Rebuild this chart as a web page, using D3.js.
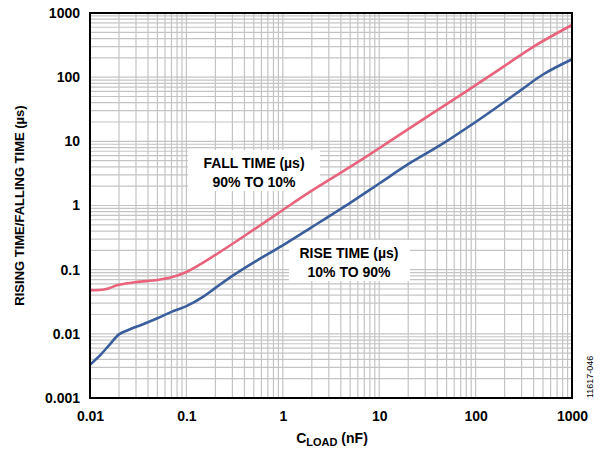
<!DOCTYPE html>
<html>
<head>
<meta charset="utf-8">
<script src="https://cdn.jsdelivr.net/npm/d3@7"></script>
<style>
body { margin: 0; background: #fff; }
text { font-family: "Liberation Sans", Arial, sans-serif; }
</style>
</head>
<body>
<div id="chart"></div>
<script>
'use strict';

var xTicks = [0.01, 0.1, 1, 10, 100, 1000];
var yTicks = [0.001, 0.01, 0.1, 1, 10, 100, 1000];
var xTickLabels = ["0.01", "0.1", "1", "10", "100", "1000"];
var yTickLabels = ["0.001", "0.01", "0.1", "1", "10", "100", "1000"];

// fall time, 90% to 10%
var fallLoad = [0.01, 0.014, 0.02, 0.03, 0.05, 0.07, 0.1, 0.2, 0.5, 1, 2, 5, 10, 20, 50, 100, 200, 400, 1000];
var fallTime = [0.048, 0.049, 0.058, 0.064, 0.069, 0.076, 0.092, 0.17, 0.42, 0.85, 1.7, 4.0, 7.8, 15.5, 38, 75, 150, 300, 650];

// rise time, 10% to 90%
var riseLoad = [0.01, 0.013, 0.016, 0.02, 0.025, 0.035, 0.05, 0.07, 0.1, 0.15, 0.2, 0.3, 0.5, 1, 2, 5, 10, 20, 43, 100, 212, 300, 500, 1000];
var riseTime = [0.0033, 0.0048, 0.0068, 0.0098, 0.0115, 0.014, 0.0175, 0.022, 0.027, 0.038, 0.052, 0.08, 0.13, 0.24, 0.46, 1.1, 2.2, 4.4, 8.7, 20, 44, 64, 110, 190];

var margin = { left: 90, top: 13 };
var width = 602, height = 453;
var iw = 572 - margin.left, ih = 398 - margin.top;

var svg = d3.select("#chart").append("svg")
    .attr("width", width)
    .attr("height", height);

var g = svg.append("g")
    .attr("transform", "translate(" + margin.left + "," + margin.top + ")");

var x = d3.scaleLog().domain([0.01, 1000]).range([0, iw]);
var y = d3.scaleLog().domain([0.001, 1000]).range([ih, 0]);

// minor + major grid
var xGrid = [], yGrid = [];
xTicks.slice(0, -1).forEach(function (d) {
    for (var k = 2; k <= 10; k++) xGrid.push(d * k);
});
yTicks.slice(0, -1).forEach(function (d) {
    for (var k = 2; k <= 10; k++) yGrid.push(d * k);
});

g.selectAll("line.gx").data(xGrid).enter().append("line")
    .attr("class", "gx")
    .attr("x1", function (d) { return x(d); })
    .attr("x2", function (d) { return x(d); })
    .attr("y1", 0).attr("y2", ih)
    .attr("stroke", "#c4c4c4").attr("stroke-width", 1.2);

g.selectAll("line.gy").data(yGrid).enter().append("line")
    .attr("class", "gy")
    .attr("y1", function (d) { return y(d); })
    .attr("y2", function (d) { return y(d); })
    .attr("x1", 0).attr("x2", iw)
    .attr("stroke", "#c4c4c4").attr("stroke-width", 1.2);

// label boxes
g.append("rect").attr("x", 188 - margin.left).attr("y", 150 - margin.top)
    .attr("width", 132).attr("height", 41).attr("fill", "#fff");
g.append("rect").attr("x", 289 - margin.left).attr("y", 240 - margin.top)
    .attr("width", 121).attr("height", 41).attr("fill", "#fff");

var line = d3.line()
    .x(function (d) { return x(d[0]); })
    .y(function (d) { return y(d[1]); })
    .curve(d3.curveCatmullRom.alpha(0.5));

g.append("path")
    .datum(d3.zip(fallLoad, fallTime))
    .attr("d", line)
    .attr("fill", "none")
    .attr("stroke", "#e8637b")
    .attr("stroke-width", 2.6);

g.append("path")
    .datum(d3.zip(riseLoad, riseTime))
    .attr("d", line)
    .attr("fill", "none")
    .attr("stroke", "#3a5d9c")
    .attr("stroke-width", 2.6);

// labels on curves
var labels = g.append("g")
    .attr("font-weight", "bold")
    .attr("font-size", "14px")
    .attr("text-anchor", "middle")
    .attr("fill", "#000");
labels.append("text").attr("x", 254 - margin.left).attr("y", 168 - margin.top).text("FALL TIME (µs)");
labels.append("text").attr("x", 254 - margin.left).attr("y", 187 - margin.top).text("90% TO 10%");
labels.append("text").attr("x", 349 - margin.left).attr("y", 258 - margin.top).text("RISE TIME (µs)");
labels.append("text").attr("x", 349 - margin.left).attr("y", 277 - margin.top).text("10% TO 90%");

// frame
g.append("rect")
    .attr("x", 0).attr("y", 0)
    .attr("width", iw).attr("height", ih)
    .attr("fill", "none")
    .attr("stroke", "#000")
    .attr("stroke-width", 2);

// axes
var xAxis = d3.axisBottom(x)
    .tickValues(xTicks)
    .tickSize(0)
    .tickPadding(13)
    .tickFormat(function (d, i) { return xTickLabels[i]; });
var yAxis = d3.axisLeft(y)
    .tickValues(yTicks)
    .tickSize(0)
    .tickPadding(10)
    .tickFormat(function (d, i) { return yTickLabels[i]; });

var gx = g.append("g").attr("transform", "translate(0," + ih + ")").call(xAxis);
var gy = g.append("g").call(yAxis);
[gx, gy].forEach(function (a) {
    a.select(".domain").remove();
    a.selectAll("text")
        .attr("font-family", "Liberation Sans, Arial, sans-serif")
        .attr("font-size", "14px")
        .attr("font-weight", "bold")
        .attr("fill", "#000");
});

// axis titles
var xt = svg.append("text")
    .attr("x", 332)
    .attr("y", 443)
    .attr("text-anchor", "middle")
    .attr("font-size", "14px")
    .attr("font-weight", "bold");
xt.append("tspan").text("C");
xt.append("tspan").attr("font-size", "11px").attr("dy", 3).text("LOAD");
xt.append("tspan").attr("dy", -3).text(" (nF)");

svg.append("text")
    .attr("transform", "translate(24," + (margin.top + ih / 2) + ") rotate(-90)")
    .attr("text-anchor", "middle")
    .attr("font-size", "13px")
    .attr("font-weight", "bold")
    .text("RISING TIME/FALLING TIME (µs)");

svg.append("text")
    .attr("transform", "translate(593,398) rotate(-90)")
    .attr("font-size", "9px")
    .attr("fill", "#000")
    .text("11617-046");
</script>
</body>
</html>
